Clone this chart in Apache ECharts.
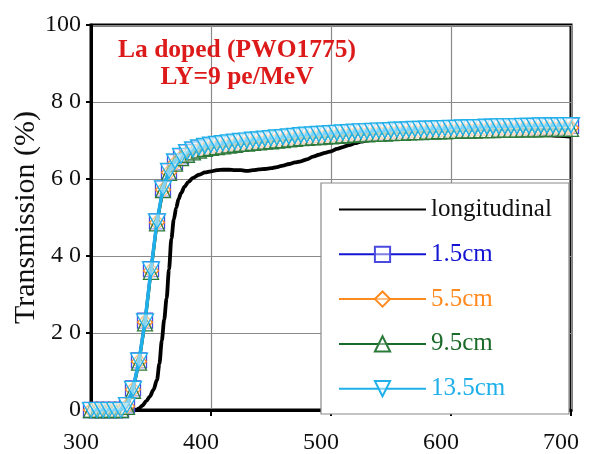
<!DOCTYPE html>
<html>
<head>
<meta charset="utf-8">
<script src="https://cdn.jsdelivr.net/npm/echarts@6/dist/echarts.min.js"></script>
<style>
  html, body { margin: 0; padding: 0; background: #fff; }
  #chart { width: 591px; height: 454px; }
</style>
</head>
<body>
<div id="chart"></div>
<script>
// Wavelength grid (nm) for the measured positions along the crystal
const wavelengths = [
  300, 305, 310, 315, 320, 325, 330, 335, 340, 345,
  350, 355, 360, 365, 370, 375, 380, 385, 390, 395,
  400, 405, 410, 415, 420, 425, 430, 435, 440, 445,
  450, 455, 460, 465, 470, 475, 480, 485, 490, 495,
  500, 505, 510, 515, 520, 525, 530, 535, 540, 545,
  550, 555, 560, 565, 570, 575, 580, 585, 590, 595,
  600, 605, 610, 615, 620, 625, 630, 635, 640, 645,
  650, 655, 660, 665, 670, 675, 680, 685, 690, 695,
  700
];

// Transverse transmission (%) at 1.5 cm
const t15 = [
  0, 0, 0, 0, 0, 0, 1.2, 5.6, 12.9, 23.2,
  36.6, 49.0, 57.5, 62.0, 64.4, 65.9, 66.9, 67.5, 68.0, 68.4,
  68.7, 68.9, 69.1, 69.3, 69.5, 69.7, 69.8, 70.0, 70.1, 70.3,
  70.4, 70.6, 70.7, 70.9, 71.0, 71.2, 71.3, 71.4, 71.5, 71.6,
  71.7, 71.8, 71.9, 72.0, 72.1, 72.2, 72.2, 72.3, 72.4, 72.4,
  72.5, 72.6, 72.6, 72.7, 72.8, 72.8, 72.9, 72.9, 73.0, 73.0,
  73.1, 73.1, 73.2, 73.2, 73.3, 73.3, 73.4, 73.4, 73.5, 73.5,
  73.5, 73.5, 73.6, 73.6, 73.6, 73.7, 73.7, 73.7, 73.7, 73.8,
  73.8
];

// Transverse transmission (%) at 5.5 cm
const t55 = [
  0, 0, 0, 0, 0, 0, 1.0, 5.3, 12.6, 22.8,
  36.2, 48.7, 57.2, 61.7, 64.1, 65.5, 66.4, 67.0, 67.5, 67.9,
  68.2, 68.4, 68.6, 68.8, 69.0, 69.2, 69.3, 69.5, 69.6, 69.8,
  69.9, 70.1, 70.2, 70.4, 70.5, 70.7, 70.8, 70.9, 71.0, 71.1,
  71.2, 71.3, 71.4, 71.5, 71.6, 71.7, 71.7, 71.8, 71.9, 71.9,
  72.0, 72.1, 72.1, 72.2, 72.3, 72.3, 72.4, 72.4, 72.5, 72.5,
  72.6, 72.6, 72.7, 72.7, 72.8, 72.8, 72.9, 72.9, 73.0, 73.0,
  73.0, 73.0, 73.1, 73.1, 73.1, 73.2, 73.2, 73.2, 73.2, 73.3,
  73.3
];

// Transverse transmission (%) at 9.5 cm
const t95 = [
  0, 0, 0, 0, 0, 0, 0.8, 5.0, 12.3, 22.5,
  35.9, 48.5, 57.1, 61.6, 64.0, 65.4, 66.3, 66.9, 67.4, 67.8,
  68.1, 68.3, 68.5, 68.7, 68.9, 69.1, 69.2, 69.4, 69.5, 69.7,
  69.8, 70.0, 70.1, 70.3, 70.4, 70.6, 70.7, 70.8, 70.9, 71.0,
  71.1, 71.2, 71.3, 71.4, 71.5, 71.6, 71.6, 71.7, 71.8, 71.8,
  71.9, 72.0, 72.0, 72.1, 72.2, 72.2, 72.3, 72.3, 72.4, 72.4,
  72.5, 72.5, 72.6, 72.6, 72.6, 72.7, 72.7, 72.7, 72.8, 72.8,
  72.8, 72.8, 72.9, 72.9, 72.9, 72.9, 73.0, 73.0, 73.0, 73.0,
  73.0
];

// Transverse transmission (%) at 13.5 cm
const t135 = [
  0, 0, 0, 0, 0, 0, 1.3, 5.5, 12.8, 23.0,
  36.5, 49.0, 57.6, 62.1, 64.6, 66.0, 67.0, 67.7, 68.2, 68.6,
  68.9, 69.1, 69.3, 69.5, 69.7, 69.9, 70.0, 70.2, 70.3, 70.5,
  70.6, 70.8, 70.9, 71.1, 71.2, 71.4, 71.5, 71.6, 71.7, 71.8,
  71.9, 72.0, 72.1, 72.2, 72.3, 72.4, 72.4, 72.5, 72.6, 72.6,
  72.7, 72.8, 72.8, 72.9, 73.0, 73.0, 73.1, 73.1, 73.2, 73.2,
  73.3, 73.3, 73.4, 73.4, 73.5, 73.5, 73.6, 73.6, 73.7, 73.7,
  73.7, 73.7, 73.8, 73.8, 73.8, 73.9, 73.9, 73.9, 73.9, 74.0,
  74.0
];

// Longitudinal transmission (%) — denser sampling across the absorption edge
const longWl = [
  300, 310, 320, 330, 335, 338, 340, 343, 346, 349,
  352, 355, 357, 359, 361, 363, 365, 367, 369, 371,
  373, 375, 378, 381, 385, 390, 395, 400, 405, 410,
  415, 420, 425, 430, 435, 440, 445, 450, 455, 460,
  465, 470, 475, 480, 485, 490, 495, 500, 505, 510,
  515, 520, 525, 530, 535, 540, 545, 550, 560, 570,
  580, 590, 600, 610, 620, 630, 640, 650, 660, 670,
  680, 690, 700
];
const longT = [
  0, 0, 0, 0, 0, 0.1, 0.4, 1.2, 2.3, 3.5,
  5.2, 7.8, 12.0, 18.0, 23.5, 29.0, 36.5, 44.5, 49.5, 52.5,
  54.8, 56.3, 58.0, 59.2, 60.3, 61.1, 61.7, 62.0, 62.3, 62.4,
  62.4, 62.3, 62.3, 62.1, 62.3, 62.5, 62.6, 62.8, 63.1, 63.5,
  63.9, 64.3, 64.6, 65.1, 65.8, 66.3, 66.8, 67.2, 67.8, 68.3,
  68.8, 69.3, 69.7, 70.0, 70.3, 70.5, 70.7, 70.9, 71.2, 71.5,
  71.7, 71.9, 72.0, 72.1, 72.1, 72.1, 72.0, 71.9, 71.8, 71.6,
  71.4, 71.2, 71.0
];

const xTicks = [300, 400, 500, 600, 700];
const yTickText = { 0: '0', 20: '2 0', 40: '4 0', 60: '6 0', 80: '8 0', 100: '100' };

const serif = '"Liberation Serif", "Times New Roman", serif';
const markerFill = 'rgba(255,255,255,0.45)';

const pairs = (xs, ys) => xs.map((x, i) => [x, ys[i]]);

const chart = echarts.init(document.getElementById('chart'), null, { renderer: 'canvas' });

chart.setOption({
  backgroundColor: '#fff',
  animation: false,
  title: {
    text: 'La doped (PWO1775)\nLY=9 pe/MeV',
    left: 232,
    top: 32,
    textAlign: 'center',
    textStyle: {
      fontFamily: serif,
      fontWeight: 'bold',
      fontSize: 25.5,
      lineHeight: 27,
      color: '#dd1a1a'
    }
  },
  grid: {
    left: 91, right: 20, top: 25, bottom: 44,
    outerBoundsMode: 'none',
    containLabel: false,
    show: true,
    borderColor: '#000',
    borderWidth: 3,
    backgroundColor: 'transparent'
  },
  xAxis: {
    type: 'value',
    min: 300, max: 700, interval: 100,
    axisLine: { show: true, onZero: false, lineStyle: { color: '#000', width: 3 } },
    axisTick: { show: true, inside: false, length: 6, lineStyle: { color: '#000', width: 2 } },
    axisLabel: {
      fontFamily: serif, fontSize: 24, color: '#111', margin: 21,
      padding: [0, 20, 0, 0],
      customValues: xTicks,
      formatter: v => String(v)
    },
    splitLine: { show: true, lineStyle: { color: '#8a8a8a', width: 1.2 } }
  },
  yAxis: {
    type: 'value',
    min: 0, max: 100, interval: 20,
    name: 'Transmission (%)',
    nameLocation: 'middle',
    nameGap: 50,
    nameMoveOverlap: false,
    nameTextStyle: { fontFamily: serif, fontSize: 30, color: '#111' },
    axisLine: { show: true, lineStyle: { color: '#000', width: 3 } },
    axisTick: { show: true, inside: false, length: 5, lineStyle: { color: '#000', width: 2 } },
    axisLabel: {
      fontFamily: serif, fontSize: 24, color: '#111', margin: 10,
      padding: [0, 0, 6, 0],
      formatter: v => yTickText[v] !== undefined ? yTickText[v] : ''
    },
    splitLine: { show: true, lineStyle: { color: '#8a8a8a', width: 1.2 } }
  },
  legend: {
    orient: 'vertical',
    left: 338,
    top: 197,
    padding: 0,
    itemWidth: 87,
    itemHeight: 19,
    itemGap: 19.8,
    z: 20,
    textStyle: { fontFamily: serif, fontSize: 25, lineHeight: 25 },
    data: [
      { name: 'longitudinal', itemStyle: { opacity: 0 }, textStyle: { color: '#111' } },
      { name: '1.5cm', textStyle: { color: '#1414d4' } },
      { name: '5.5cm', textStyle: { color: '#ff8a1e' } },
      { name: '9.5cm', textStyle: { color: '#1b6b2a' } },
      { name: '13.5cm', textStyle: { color: '#1fb0ea' } }
    ]
  },
  graphic: [
    {
      type: 'rect',
      z: 15,
      shape: { x: 321, y: 183, width: 248, height: 231 },
      style: { fill: '#fff', stroke: '#8a8a8a', lineWidth: 1.2 }
    }
  ],
  series: [
    {
      name: 'longitudinal',
      type: 'line',
      data: pairs(longWl, longT),
      symbol: 'none',
      smooth: 0.3,
      smoothMonotone: 'x',
      lineStyle: { color: '#000', width: 3.8 },
      itemStyle: { color: '#000' },
      z: 2
    },
    {
      name: '1.5cm',
      type: 'line',
      data: pairs(wavelengths, t15),
      symbol: 'rect',
      symbolSize: 15,
      lineStyle: { color: '#1414d4', width: 3 },
      itemStyle: { color: markerFill, borderColor: '#4a4ae0', borderWidth: 1.3 },
      z: 3
    },
    {
      name: '5.5cm',
      type: 'line',
      data: pairs(wavelengths, t55),
      symbol: 'diamond',
      symbolSize: 15,
      lineStyle: { color: '#ff8a1e', width: 3 },
      itemStyle: { color: markerFill, borderColor: '#ff8a1e', borderWidth: 1.3 },
      z: 4
    },
    {
      name: '9.5cm',
      type: 'line',
      data: pairs(wavelengths, t95),
      symbol: 'triangle',
      symbolSize: 15,
      lineStyle: { color: '#1b6b2a', width: 3 },
      itemStyle: { color: markerFill, borderColor: '#2c7a3a', borderWidth: 1.3 },
      z: 5
    },
    {
      name: '13.5cm',
      type: 'line',
      data: pairs(wavelengths, t135),
      symbol: 'triangle',
      symbolRotate: 180,
      symbolSize: [17, 15],
      lineStyle: { color: '#1fb0ea', width: 3.5 },
      itemStyle: { color: markerFill, borderColor: '#1fb0ea', borderWidth: 1.3 },
      z: 6
    }
  ]
});
</script>
</body>
</html>
